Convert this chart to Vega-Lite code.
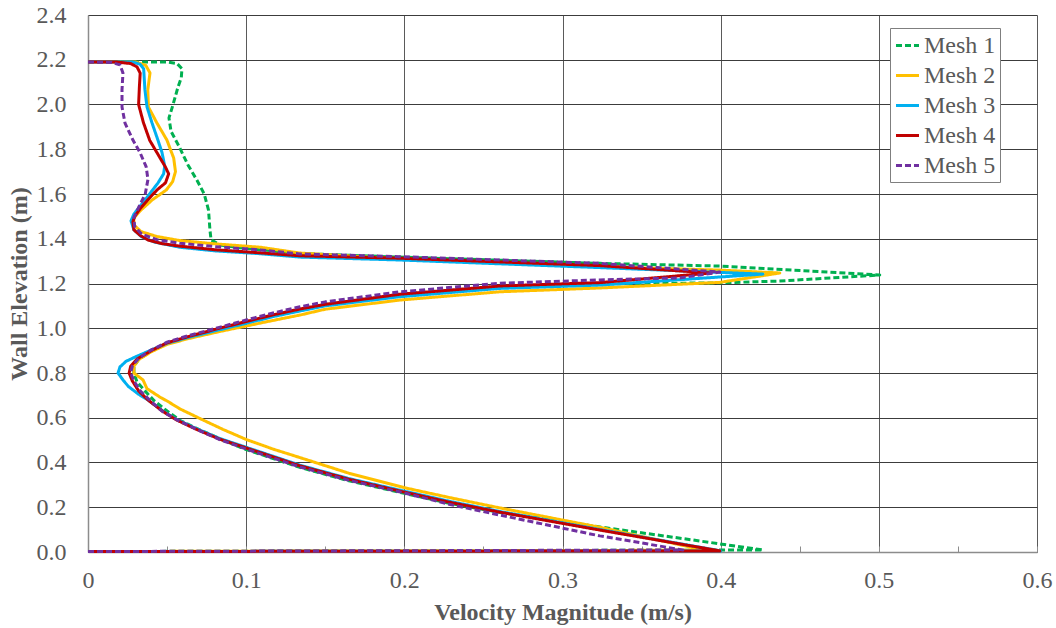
{
"$schema":"https://vega.github.io/schema/vega-lite/v6.json",
"autosize":"none",
"width":949,"height":537,
"padding":{"left":88,"top":15,"right":19,"bottom":76},
"background":"white",
"config":{"view":{"stroke":null},"font":"Liberation Serif"},
"data":{"values":[
{"m":"Mesh 1","i":0,"v":0,"h":2.19},{"m":"Mesh 1","i":1,"v":0.05,"h":2.19},{"m":"Mesh 1","i":2,"v":0.0563,"h":2.183},{"m":"Mesh 1","i":3,"v":0.0594,"h":2.16},{"m":"Mesh 1","i":4,"v":0.059,"h":2.12},{"m":"Mesh 1","i":5,"v":0.0569,"h":2.078},{"m":"Mesh 1","i":6,"v":0.0537,"h":1.998},{"m":"Mesh 1","i":7,"v":0.0512,"h":1.94},{"m":"Mesh 1","i":8,"v":0.0525,"h":1.88},{"m":"Mesh 1","i":9,"v":0.0574,"h":1.815},{"m":"Mesh 1","i":10,"v":0.0632,"h":1.73},{"m":"Mesh 1","i":11,"v":0.069,"h":1.66},{"m":"Mesh 1","i":12,"v":0.0735,"h":1.6},{"m":"Mesh 1","i":13,"v":0.0762,"h":1.528},{"m":"Mesh 1","i":14,"v":0.0771,"h":1.439},{"m":"Mesh 1","i":15,"v":0.0778,"h":1.395},{"m":"Mesh 1","i":16,"v":0.0834,"h":1.372},{"m":"Mesh 1","i":17,"v":0.096,"h":1.36},{"m":"Mesh 1","i":18,"v":0.134,"h":1.334},{"m":"Mesh 1","i":19,"v":0.197,"h":1.318},{"m":"Mesh 1","i":20,"v":0.3236,"h":1.29},{"m":"Mesh 1","i":21,"v":0.3995,"h":1.278},{"m":"Mesh 1","i":22,"v":0.5006,"h":1.238},{"m":"Mesh 1","i":23,"v":0.4374,"h":1.211},{"m":"Mesh 1","i":24,"v":0.3995,"h":1.203},{"m":"Mesh 1","i":25,"v":0.3236,"h":1.198},{"m":"Mesh 1","i":26,"v":0.2604,"h":1.187},{"m":"Mesh 1","i":27,"v":0.1972,"h":1.153},{"m":"Mesh 1","i":28,"v":0.15,"h":1.108},{"m":"Mesh 1","i":29,"v":0.117,"h":1.06},{"m":"Mesh 1","i":30,"v":0.1,"h":1.028},{"m":"Mesh 1","i":31,"v":0.083,"h":0.998},{"m":"Mesh 1","i":32,"v":0.063,"h":0.96},{"m":"Mesh 1","i":33,"v":0.05,"h":0.933},{"m":"Mesh 1","i":34,"v":0.04,"h":0.898},{"m":"Mesh 1","i":35,"v":0.032,"h":0.86},{"m":"Mesh 1","i":36,"v":0.029,"h":0.83},{"m":"Mesh 1","i":37,"v":0.029,"h":0.8},{"m":"Mesh 1","i":38,"v":0.031,"h":0.76},{"m":"Mesh 1","i":39,"v":0.036,"h":0.72},{"m":"Mesh 1","i":40,"v":0.042,"h":0.675},{"m":"Mesh 1","i":41,"v":0.05,"h":0.63},{"m":"Mesh 1","i":42,"v":0.059,"h":0.585},{"m":"Mesh 1","i":43,"v":0.071,"h":0.545},{"m":"Mesh 1","i":44,"v":0.086,"h":0.498},{"m":"Mesh 1","i":45,"v":0.1,"h":0.458},{"m":"Mesh 1","i":46,"v":0.117,"h":0.418},{"m":"Mesh 1","i":47,"v":0.134,"h":0.378},{"m":"Mesh 1","i":48,"v":0.165,"h":0.318},{"m":"Mesh 1","i":49,"v":0.2,"h":0.262},{"m":"Mesh 1","i":50,"v":0.229,"h":0.217},{"m":"Mesh 1","i":51,"v":0.2604,"h":0.177},{"m":"Mesh 1","i":52,"v":0.3236,"h":0.112},{"m":"Mesh 1","i":53,"v":0.38,"h":0.056},{"m":"Mesh 1","i":54,"v":0.4267,"h":0.009},{"m":"Mesh 1","i":55,"v":0,"h":0.002},
{"m":"Mesh 2","i":0,"v":0,"h":2.19},{"m":"Mesh 2","i":1,"v":0.03,"h":2.19},{"m":"Mesh 2","i":2,"v":0.0365,"h":2.175},{"m":"Mesh 2","i":3,"v":0.0392,"h":2.141},{"m":"Mesh 2","i":4,"v":0.0378,"h":2.065},{"m":"Mesh 2","i":5,"v":0.0382,"h":1.989},{"m":"Mesh 2","i":6,"v":0.0436,"h":1.917},{"m":"Mesh 2","i":7,"v":0.0499,"h":1.841},{"m":"Mesh 2","i":8,"v":0.0542,"h":1.76},{"m":"Mesh 2","i":9,"v":0.0553,"h":1.7},{"m":"Mesh 2","i":10,"v":0.0535,"h":1.655},{"m":"Mesh 2","i":11,"v":0.0495,"h":1.618},{"m":"Mesh 2","i":12,"v":0.0405,"h":1.573},{"m":"Mesh 2","i":13,"v":0.033,"h":1.525},{"m":"Mesh 2","i":14,"v":0.0288,"h":1.49},{"m":"Mesh 2","i":15,"v":0.0293,"h":1.46},{"m":"Mesh 2","i":16,"v":0.0335,"h":1.432},{"m":"Mesh 2","i":17,"v":0.0436,"h":1.41},{"m":"Mesh 2","i":18,"v":0.058,"h":1.392},{"m":"Mesh 2","i":19,"v":0.079,"h":1.378},{"m":"Mesh 2","i":20,"v":0.109,"h":1.362},{"m":"Mesh 2","i":21,"v":0.134,"h":1.336},{"m":"Mesh 2","i":22,"v":0.197,"h":1.31},{"m":"Mesh 2","i":23,"v":0.3236,"h":1.275},{"m":"Mesh 2","i":24,"v":0.3995,"h":1.26},{"m":"Mesh 2","i":25,"v":0.4374,"h":1.247},{"m":"Mesh 2","i":26,"v":0.3995,"h":1.205},{"m":"Mesh 2","i":27,"v":0.3236,"h":1.18},{"m":"Mesh 2","i":28,"v":0.2604,"h":1.163},{"m":"Mesh 2","i":29,"v":0.1972,"h":1.126},{"m":"Mesh 2","i":30,"v":0.15,"h":1.085},{"m":"Mesh 2","i":31,"v":0.134,"h":1.059},{"m":"Mesh 2","i":32,"v":0.117,"h":1.035},{"m":"Mesh 2","i":33,"v":0.1,"h":1.01},{"m":"Mesh 2","i":34,"v":0.083,"h":0.985},{"m":"Mesh 2","i":35,"v":0.063,"h":0.953},{"m":"Mesh 2","i":36,"v":0.05,"h":0.928},{"m":"Mesh 2","i":37,"v":0.04,"h":0.895},{"m":"Mesh 2","i":38,"v":0.032,"h":0.86},{"m":"Mesh 2","i":39,"v":0.029,"h":0.83},{"m":"Mesh 2","i":40,"v":0.029,"h":0.8},{"m":"Mesh 2","i":41,"v":0.0348,"h":0.769},{"m":"Mesh 2","i":42,"v":0.0373,"h":0.73},{"m":"Mesh 2","i":43,"v":0.046,"h":0.69},{"m":"Mesh 2","i":44,"v":0.05,"h":0.675},{"m":"Mesh 2","i":45,"v":0.058,"h":0.64},{"m":"Mesh 2","i":46,"v":0.0727,"h":0.59},{"m":"Mesh 2","i":47,"v":0.0853,"h":0.548},{"m":"Mesh 2","i":48,"v":0.1,"h":0.503},{"m":"Mesh 2","i":49,"v":0.117,"h":0.46},{"m":"Mesh 2","i":50,"v":0.134,"h":0.422},{"m":"Mesh 2","i":51,"v":0.165,"h":0.352},{"m":"Mesh 2","i":52,"v":0.1997,"h":0.288},{"m":"Mesh 2","i":53,"v":0.2288,"h":0.243},{"m":"Mesh 2","i":54,"v":0.2604,"h":0.197},{"m":"Mesh 2","i":55,"v":0.324,"h":0.11},{"m":"Mesh 2","i":56,"v":0.39,"h":0.008},{"m":"Mesh 2","i":57,"v":0,"h":0.002},
{"m":"Mesh 3","i":0,"v":0,"h":2.19},{"m":"Mesh 3","i":1,"v":0.028,"h":2.19},{"m":"Mesh 3","i":2,"v":0.0329,"h":2.18},{"m":"Mesh 3","i":3,"v":0.0352,"h":2.16},{"m":"Mesh 3","i":4,"v":0.036,"h":2.065},{"m":"Mesh 3","i":5,"v":0.0373,"h":1.989},{"m":"Mesh 3","i":6,"v":0.0405,"h":1.917},{"m":"Mesh 3","i":7,"v":0.0442,"h":1.841},{"m":"Mesh 3","i":8,"v":0.0468,"h":1.785},{"m":"Mesh 3","i":9,"v":0.0485,"h":1.725},{"m":"Mesh 3","i":10,"v":0.0478,"h":1.69},{"m":"Mesh 3","i":11,"v":0.0442,"h":1.649},{"m":"Mesh 3","i":12,"v":0.036,"h":1.573},{"m":"Mesh 3","i":13,"v":0.029,"h":1.51},{"m":"Mesh 3","i":14,"v":0.0272,"h":1.48},{"m":"Mesh 3","i":15,"v":0.029,"h":1.44},{"m":"Mesh 3","i":16,"v":0.034,"h":1.408},{"m":"Mesh 3","i":17,"v":0.042,"h":1.385},{"m":"Mesh 3","i":18,"v":0.058,"h":1.362},{"m":"Mesh 3","i":19,"v":0.08,"h":1.346},{"m":"Mesh 3","i":20,"v":0.109,"h":1.333},{"m":"Mesh 3","i":21,"v":0.134,"h":1.318},{"m":"Mesh 3","i":22,"v":0.1972,"h":1.305},{"m":"Mesh 3","i":23,"v":0.3236,"h":1.271},{"m":"Mesh 3","i":24,"v":0.4267,"h":1.242},{"m":"Mesh 3","i":25,"v":0.3236,"h":1.193},{"m":"Mesh 3","i":26,"v":0.2604,"h":1.178},{"m":"Mesh 3","i":27,"v":0.1972,"h":1.141},{"m":"Mesh 3","i":28,"v":0.15,"h":1.1},{"m":"Mesh 3","i":29,"v":0.134,"h":1.077},{"m":"Mesh 3","i":30,"v":0.117,"h":1.052},{"m":"Mesh 3","i":31,"v":0.1,"h":1.022},{"m":"Mesh 3","i":32,"v":0.083,"h":0.993},{"m":"Mesh 3","i":33,"v":0.063,"h":0.958},{"m":"Mesh 3","i":34,"v":0.05,"h":0.933},{"m":"Mesh 3","i":35,"v":0.04,"h":0.903},{"m":"Mesh 3","i":36,"v":0.03,"h":0.872},{"m":"Mesh 3","i":37,"v":0.024,"h":0.852},{"m":"Mesh 3","i":38,"v":0.0202,"h":0.827},{"m":"Mesh 3","i":39,"v":0.019,"h":0.8},{"m":"Mesh 3","i":40,"v":0.0221,"h":0.769},{"m":"Mesh 3","i":41,"v":0.0255,"h":0.74},{"m":"Mesh 3","i":42,"v":0.032,"h":0.705},{"m":"Mesh 3","i":43,"v":0.038,"h":0.679},{"m":"Mesh 3","i":44,"v":0.047,"h":0.632},{"m":"Mesh 3","i":45,"v":0.056,"h":0.592},{"m":"Mesh 3","i":46,"v":0.068,"h":0.553},{"m":"Mesh 3","i":47,"v":0.083,"h":0.508},{"m":"Mesh 3","i":48,"v":0.1,"h":0.468},{"m":"Mesh 3","i":49,"v":0.117,"h":0.428},{"m":"Mesh 3","i":50,"v":0.134,"h":0.388},{"m":"Mesh 3","i":51,"v":0.165,"h":0.328},{"m":"Mesh 3","i":52,"v":0.2,"h":0.272},{"m":"Mesh 3","i":53,"v":0.229,"h":0.226},{"m":"Mesh 3","i":54,"v":0.2604,"h":0.181},{"m":"Mesh 3","i":55,"v":0.324,"h":0.1},{"m":"Mesh 3","i":56,"v":0.4,"h":0.005},{"m":"Mesh 3","i":57,"v":0,"h":0.002},
{"m":"Mesh 4","i":0,"v":0,"h":2.19},{"m":"Mesh 4","i":1,"v":0.018,"h":2.19},{"m":"Mesh 4","i":2,"v":0.027,"h":2.183},{"m":"Mesh 4","i":3,"v":0.031,"h":2.168},{"m":"Mesh 4","i":4,"v":0.033,"h":2.14},{"m":"Mesh 4","i":5,"v":0.0325,"h":2.08},{"m":"Mesh 4","i":6,"v":0.032,"h":2.0},{"m":"Mesh 4","i":7,"v":0.035,"h":1.92},{"m":"Mesh 4","i":8,"v":0.039,"h":1.84},{"m":"Mesh 4","i":9,"v":0.044,"h":1.78},{"m":"Mesh 4","i":10,"v":0.049,"h":1.72},{"m":"Mesh 4","i":11,"v":0.051,"h":1.69},{"m":"Mesh 4","i":12,"v":0.049,"h":1.65},{"m":"Mesh 4","i":13,"v":0.0436,"h":1.618},{"m":"Mesh 4","i":14,"v":0.038,"h":1.575},{"m":"Mesh 4","i":15,"v":0.033,"h":1.535},{"m":"Mesh 4","i":16,"v":0.0295,"h":1.5},{"m":"Mesh 4","i":17,"v":0.0284,"h":1.475},{"m":"Mesh 4","i":18,"v":0.029,"h":1.44},{"m":"Mesh 4","i":19,"v":0.033,"h":1.415},{"m":"Mesh 4","i":20,"v":0.038,"h":1.394},{"m":"Mesh 4","i":21,"v":0.047,"h":1.378},{"m":"Mesh 4","i":22,"v":0.058,"h":1.367},{"m":"Mesh 4","i":23,"v":0.08,"h":1.351},{"m":"Mesh 4","i":24,"v":0.109,"h":1.337},{"m":"Mesh 4","i":25,"v":0.134,"h":1.324},{"m":"Mesh 4","i":26,"v":0.1972,"h":1.313},{"m":"Mesh 4","i":27,"v":0.3236,"h":1.28},{"m":"Mesh 4","i":28,"v":0.394,"h":1.247},{"m":"Mesh 4","i":29,"v":0.3236,"h":1.204},{"m":"Mesh 4","i":30,"v":0.2604,"h":1.189},{"m":"Mesh 4","i":31,"v":0.1972,"h":1.152},{"m":"Mesh 4","i":32,"v":0.15,"h":1.107},{"m":"Mesh 4","i":33,"v":0.134,"h":1.086},{"m":"Mesh 4","i":34,"v":0.117,"h":1.06},{"m":"Mesh 4","i":35,"v":0.1,"h":1.03},{"m":"Mesh 4","i":36,"v":0.083,"h":1.0},{"m":"Mesh 4","i":37,"v":0.063,"h":0.962},{"m":"Mesh 4","i":38,"v":0.05,"h":0.935},{"m":"Mesh 4","i":39,"v":0.04,"h":0.9},{"m":"Mesh 4","i":40,"v":0.031,"h":0.862},{"m":"Mesh 4","i":41,"v":0.027,"h":0.83},{"m":"Mesh 4","i":42,"v":0.026,"h":0.8},{"m":"Mesh 4","i":43,"v":0.028,"h":0.765},{"m":"Mesh 4","i":44,"v":0.032,"h":0.72},{"m":"Mesh 4","i":45,"v":0.038,"h":0.679},{"m":"Mesh 4","i":46,"v":0.047,"h":0.63},{"m":"Mesh 4","i":47,"v":0.056,"h":0.59},{"m":"Mesh 4","i":48,"v":0.068,"h":0.55},{"m":"Mesh 4","i":49,"v":0.083,"h":0.505},{"m":"Mesh 4","i":50,"v":0.1,"h":0.465},{"m":"Mesh 4","i":51,"v":0.117,"h":0.425},{"m":"Mesh 4","i":52,"v":0.134,"h":0.385},{"m":"Mesh 4","i":53,"v":0.165,"h":0.325},{"m":"Mesh 4","i":54,"v":0.1997,"h":0.268},{"m":"Mesh 4","i":55,"v":0.2288,"h":0.222},{"m":"Mesh 4","i":56,"v":0.2604,"h":0.178},{"m":"Mesh 4","i":57,"v":0.3236,"h":0.098},{"m":"Mesh 4","i":58,"v":0.3995,"h":0.005},{"m":"Mesh 4","i":59,"v":0,"h":0.002},
{"m":"Mesh 5","i":0,"v":0,"h":2.19},{"m":"Mesh 5","i":1,"v":0.015,"h":2.188},{"m":"Mesh 5","i":2,"v":0.0202,"h":2.177},{"m":"Mesh 5","i":3,"v":0.0221,"h":2.141},{"m":"Mesh 5","i":4,"v":0.0215,"h":2.065},{"m":"Mesh 5","i":5,"v":0.0215,"h":1.989},{"m":"Mesh 5","i":6,"v":0.0234,"h":1.917},{"m":"Mesh 5","i":7,"v":0.0284,"h":1.841},{"m":"Mesh 5","i":8,"v":0.0329,"h":1.785},{"m":"Mesh 5","i":9,"v":0.0368,"h":1.721},{"m":"Mesh 5","i":10,"v":0.0379,"h":1.665},{"m":"Mesh 5","i":11,"v":0.0362,"h":1.6},{"m":"Mesh 5","i":12,"v":0.032,"h":1.54},{"m":"Mesh 5","i":13,"v":0.029,"h":1.495},{"m":"Mesh 5","i":14,"v":0.0295,"h":1.455},{"m":"Mesh 5","i":15,"v":0.034,"h":1.42},{"m":"Mesh 5","i":16,"v":0.044,"h":1.395},{"m":"Mesh 5","i":17,"v":0.058,"h":1.38},{"m":"Mesh 5","i":18,"v":0.08,"h":1.365},{"m":"Mesh 5","i":19,"v":0.109,"h":1.35},{"m":"Mesh 5","i":20,"v":0.134,"h":1.332},{"m":"Mesh 5","i":21,"v":0.1972,"h":1.32},{"m":"Mesh 5","i":22,"v":0.3236,"h":1.29},{"m":"Mesh 5","i":23,"v":0.3995,"h":1.251},{"m":"Mesh 5","i":24,"v":0.3742,"h":1.225},{"m":"Mesh 5","i":25,"v":0.3236,"h":1.216},{"m":"Mesh 5","i":26,"v":0.2604,"h":1.201},{"m":"Mesh 5","i":27,"v":0.1972,"h":1.163},{"m":"Mesh 5","i":28,"v":0.15,"h":1.118},{"m":"Mesh 5","i":29,"v":0.134,"h":1.096},{"m":"Mesh 5","i":30,"v":0.117,"h":1.068},{"m":"Mesh 5","i":31,"v":0.1,"h":1.037},{"m":"Mesh 5","i":32,"v":0.083,"h":1.004},{"m":"Mesh 5","i":33,"v":0.063,"h":0.966},{"m":"Mesh 5","i":34,"v":0.05,"h":0.938},{"m":"Mesh 5","i":35,"v":0.04,"h":0.903},{"m":"Mesh 5","i":36,"v":0.032,"h":0.866},{"m":"Mesh 5","i":37,"v":0.028,"h":0.83},{"m":"Mesh 5","i":38,"v":0.027,"h":0.8},{"m":"Mesh 5","i":39,"v":0.029,"h":0.765},{"m":"Mesh 5","i":40,"v":0.033,"h":0.72},{"m":"Mesh 5","i":41,"v":0.039,"h":0.679},{"m":"Mesh 5","i":42,"v":0.047,"h":0.628},{"m":"Mesh 5","i":43,"v":0.057,"h":0.588},{"m":"Mesh 5","i":44,"v":0.069,"h":0.547},{"m":"Mesh 5","i":45,"v":0.084,"h":0.5},{"m":"Mesh 5","i":46,"v":0.1,"h":0.46},{"m":"Mesh 5","i":47,"v":0.117,"h":0.42},{"m":"Mesh 5","i":48,"v":0.134,"h":0.38},{"m":"Mesh 5","i":49,"v":0.165,"h":0.32},{"m":"Mesh 5","i":50,"v":0.2,"h":0.264},{"m":"Mesh 5","i":51,"v":0.229,"h":0.212},{"m":"Mesh 5","i":52,"v":0.2604,"h":0.165},{"m":"Mesh 5","i":53,"v":0.3236,"h":0.072},{"m":"Mesh 5","i":54,"v":0.3761,"h":0.009},{"m":"Mesh 5","i":55,"v":0,"h":0.002}
]},
"mark":{"type":"line","strokeWidth":3,"interpolate":"linear","strokeJoin":"round"},
"encoding":{
"x":{"field":"v","type":"quantitative","scale":{"domain":[0,0.6],"nice":false,"zero":false},
 "axis":{"title":"Velocity Magnitude (m/s)","values":[0,0.05,0.1,0.15,0.2,0.25,0.3,0.35,0.4,0.45,0.5,0.55,0.6],
  "labelExpr":"round(datum.value*20)%2==1 ? '' : format(datum.value,'~g')",
  "labelFlush":false,"labelOverlap":false,
  "gridOpacity":{"condition":{"test":"round(datum.value*20)%2==1","value":0},"value":1},
  "gridColor":"#5a5a5a","gridWidth":1,
  "tickSize":-6,"tickColor":"#8c8c8c","tickWidth":1,
  "domainColor":"#8c8c8c","domainWidth":1.5,
  "labelFont":"Liberation Serif","labelFontSize":24,"labelColor":"#595959","labelPadding":22,
  "titleFont":"Liberation Serif","titleFontSize":24,"titleFontWeight":"bold","titleColor":"#595959","titlePadding":8}},
"y":{"field":"h","type":"quantitative","scale":{"domain":[0,2.4],"nice":false,"zero":false},
 "axis":{"title":"Wall Elevation (m)","values":[0,0.2,0.4,0.6,0.8,1.0,1.2,1.4,1.6,1.8,2.0,2.2,2.4],"format":".1f",
  "labelFlush":false,"labelOverlap":false,
  "gridColor":"#3c3c3c","gridWidth":1,"ticks":false,
  "domainColor":"#8c8c8c","domainWidth":1.5,
  "labelFont":"Liberation Serif","labelFontSize":24,"labelColor":"#595959","labelPadding":22,
  "titleFont":"Liberation Serif","titleFontSize":24,"titleFontWeight":"bold","titleColor":"#595959","titlePadding":5}},
"order":{"field":"i","type":"quantitative"},
"color":{"field":"m","type":"nominal","title":null,
 "scale":{"domain":["Mesh 1","Mesh 2","Mesh 3","Mesh 4","Mesh 5"],"range":["#00B050","#FFC000","#00B0F0","#C00000","#7030A0"]},
 "legend":{"orient":"none","legendX":802,"legendY":13,"fillColor":"white","strokeColor":"#7f7f7f","padding":4,
  "labelFont":"Liberation Serif","labelFontSize":24,"labelColor":"#595959","labelOffset":3,
  "symbolType":"stroke","symbolStrokeWidth":3,"symbolSize":530,"rowPadding":4}},
"strokeDash":{"field":"m","type":"nominal","title":null,
 "scale":{"domain":["Mesh 1","Mesh 2","Mesh 3","Mesh 4","Mesh 5"],"range":[[6,3],[1,0],[1,0],[1,0],[6,3]]}}
}
}
